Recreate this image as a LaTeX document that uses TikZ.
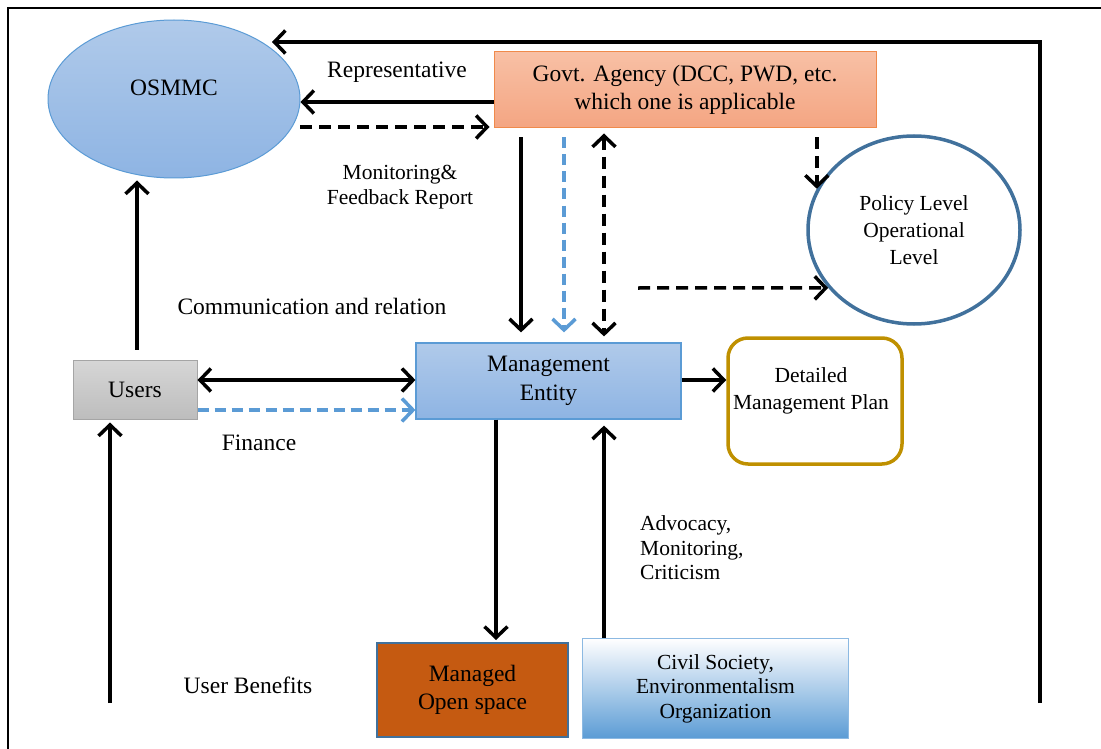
\documentclass[tikz,border=0pt]{standalone}
\usepackage{fontspec}
\setmainfont{Liberation Serif}
\usetikzlibrary{arrows.meta,shapes.geometric,calc}
\definecolor{ebord}{HTML}{5B9BD5}
\definecolor{etop}{HTML}{B0CAEA}
\definecolor{ebot}{HTML}{8EB4E3}
\definecolor{gtop}{HTML}{F8C0A5}
\definecolor{gbot}{HTML}{F4A582}
\definecolor{gbord}{HTML}{F08A4B}
\definecolor{pbord}{HTML}{41719C}
\definecolor{ubord}{HTML}{A5A5A5}
\definecolor{utop}{HTML}{D6D6D6}
\definecolor{ubot}{HTML}{BDBDBD}
\definecolor{gold}{HTML}{BF9000}
\definecolor{rust}{HTML}{C55A11}
\definecolor{dashblue}{HTML}{5B9BD5}
\newcommand{\mainsize}{\fontsize{23.5}{28}\selectfont}
\newcommand{\smallsize}{\fontsize{21.5}{24.5}\selectfont}
\tikzset{
  box/.style={draw, inner sep=0pt, align=center, font=\mainsize},
  lbl/.style={inner sep=0pt, align=center, font=\mainsize},
  slbl/.style={inner sep=0pt, align=center, font=\smallsize},
  barb/.tip={Straight Barb[length=11pt,width=23pt,line width=3.5pt]},
  arr/.style={line width=3.5pt, -barb},
  darr/.style={line width=3.5pt, barb-barb},
  blk dash/.style={dash pattern=on 12pt off 7pt},
  blue dash/.style={draw=dashblue, dash pattern=on 11pt off 6pt},
}
\begin{document}
\begin{tikzpicture}[x=1pt,y=-1pt]
\useasboundingbox (0,0) rectangle (1101,749);
% outer frame (top and left edges)
\draw[line width=2pt] (8,752) -- (8,8) -- (1104,8);

% nodes
\node[box, ellipse, draw=ebord, line width=1pt, top color=etop, bottom color=ebot,
      minimum width=252pt, minimum height=158pt] (osmmc) at (174,99) {};
\node[lbl] (osmmctext) at (174,88) {OSMMC};
\node[box, draw=gbord, line width=1pt, top color=gtop, bottom color=gbot,
      minimum width=382pt, minimum height=76pt] (govt) at (685,90)
      {Govt. Agency (DCC, PWD, etc.\\which one is applicable};
\node[box, ellipse, draw=pbord, line width=3.5pt, fill=white,
      minimum width=212pt, minimum height=188pt, font=\fontsize{21.5}{27}\selectfont] (policy) at (914,230)
      {Policy Level\\Operational\\Level};
\node[box, draw=ubord, line width=1pt, top color=utop, bottom color=ubot,
      minimum width=124pt, minimum height=59pt] (users) at (135,389.5) {Users};
\node[box, draw=ebord, line width=1.2pt, top color=etop, bottom color=ebot,
      minimum width=265pt, minimum height=76pt, font=\fontsize{23.5}{29}\selectfont] (mgmt) at (548.5,381)
      {Management\\Entity};
\node[box, draw=gold, line width=3.5pt, rounded corners=20pt, fill=white,
      minimum width=174pt, minimum height=126pt] (plan) at (815,401) {};
\node[lbl, font=\fontsize{21.5}{27}\selectfont] (plantext) at (811,391) {Detailed\\Management Plan};
\node[box, draw=pbord, line width=2pt, fill=rust,
      minimum width=191pt, minimum height=94pt] (open) at (472.5,690)
      {Managed\\Open space};
\node[box, draw=ebord!70, line width=1.5pt, top color=white, middle color=ebord, bottom color=ebord,
      minimum width=266pt, minimum height=100pt, font=\fontsize{21.5}{24.5}\selectfont] (civil) at (715.5,688.5)
      {Civil Society,\\Environmentalism\\Organization};

% labels
\node[lbl] (rep) at (397,72) {Representative};
\node[slbl] (mfr) at (400,187) {Monitoring\&\\Feedback Report};
\node[lbl] (comm) at (312,306) {Communication and relation};
\node[lbl] (fin) at (259,443) {Finance};
\node[lbl] (ben) at (248,685) {User Benefits};
\node[slbl, align=left, anchor=west] (adv) at (640,548) {Advocacy,\\Monitoring,\\Criticism};

% free ends
\coordinate (loopstart) at (1040,703);
\coordinate (looptip) at (272,42);
\coordinate (benstart) at (110,703);
\coordinate (polstart) at (638,288);
\coordinate (fbstart) at (300,127);

% connectors
\draw[arr] (loopstart) |- (looptip);
\draw[arr] ([yshift=-12pt]govt.west) -- ([yshift=-12pt]govt.west -| osmmc.east);
\draw[arr, blk dash, shorten >=4pt] (fbstart) -- (govt.west |- fbstart);
\draw[arr, shorten <=9pt, shorten >=10pt] (govt.south -| 521,0) -- (mgmt.north -| 521,0);
\draw[arr, blue dash, shorten <=9pt, shorten >=10pt] (govt.south -| 564,0) -- (mgmt.north -| 564,0);
\draw[darr, blk dash, shorten <=5pt, shorten >=6pt] (govt.south -| 604,0) -- (mgmt.north -| 604,0);
\draw[arr, blk dash, shorten <=9pt] (govt.south -| policy.157.6) -- (policy.157.6);
\draw[arr, blk dash] (polstart) -- (policy.214.3);
\draw[arr, shorten <=10pt, shorten >=2pt] (users.north -| 137,0) -- (osmmc.south -| 137,0);
\draw[darr] (users.east |- 0,380) -- (mgmt.west |- 0,380);
\draw[arr, blue dash] (users.east |- 0,410) -- (mgmt.west |- 0,410);
\draw[arr] (mgmt.east |- 0,380) -- (plan.west |- 0,380);
\draw[arr, shorten >=2pt] (mgmt.south -| 496,0) -- (open.north -| 496,0);
\draw[arr, shorten >=6pt] (civil.north -| 604,0) -- (mgmt.south -| 604,0);
\draw[arr, shorten >=3pt] (benstart) -- (users.south -| benstart);
\end{tikzpicture}
\end{document}
